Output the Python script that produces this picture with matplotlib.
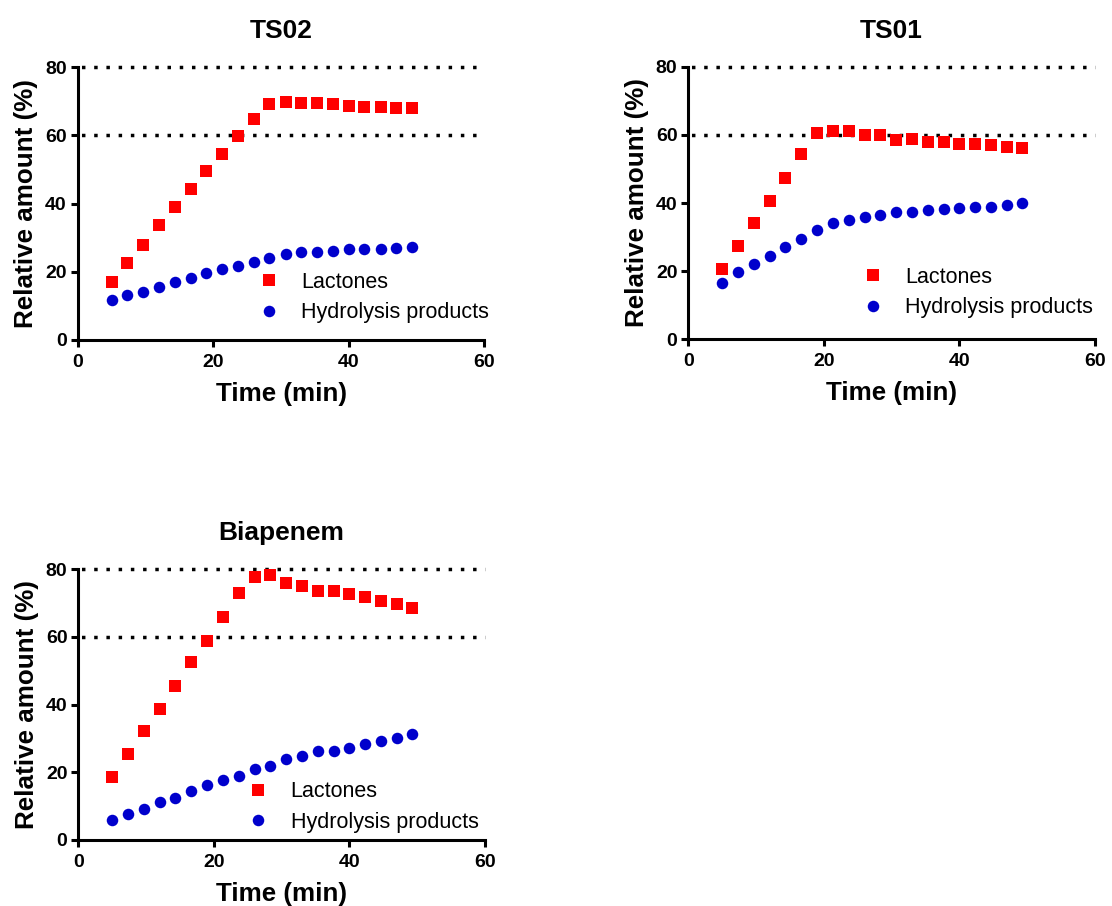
import matplotlib
matplotlib.use("Agg")
import matplotlib.pyplot as plt

plt.rcParams['font.family'] = ['Liberation Sans', 'DejaVu Sans']
plt.rcParams['lines.scale_dashes'] = False

# Sampling times (min), shared by all three compounds
time_min = [5.0, 7.3, 9.7, 12.0, 14.3, 16.7, 19.0, 21.3, 23.7, 26.0,
            28.3, 30.7, 33.0, 35.3, 37.7, 40.0, 42.3, 44.7, 47.0, 49.3]

# TS02
ts02_lactones = [17.1, 22.5, 27.9, 33.7, 38.9, 44.2, 49.6, 54.5, 59.8, 64.9,
                 69.1, 69.9, 69.6, 69.6, 69.2, 68.6, 68.4, 68.4, 68.1, 68.2]
ts02_hydrolysis = [11.7, 13.2, 14.2, 15.6, 16.9, 18.3, 19.7, 20.9, 21.8, 22.9,
                   24.2, 25.1, 25.7, 25.9, 26.1, 26.8, 26.8, 26.8, 27.0, 27.3]

# TS01
ts01_lactones = [20.5, 27.4, 34.0, 40.6, 47.4, 54.3, 60.4, 61.2, 61.0, 60.0,
                 60.0, 58.5, 58.8, 57.8, 57.8, 57.4, 57.2, 57.0, 56.3, 56.0]
ts01_hydrolysis = [16.6, 19.7, 22.0, 24.5, 27.0, 29.4, 32.1, 34.2, 35.0, 36.0,
                   36.4, 37.5, 37.5, 37.9, 38.1, 38.6, 38.9, 38.9, 39.3, 39.9]

# Biapenem
biap_lactones = [18.7, 25.4, 32.3, 38.7, 45.5, 52.4, 58.8, 65.9, 72.8, 77.5,
                 78.1, 76.0, 75.1, 73.6, 73.6, 72.6, 71.6, 70.6, 69.7, 68.4]
biap_hydrolysis = [5.9, 7.8, 9.2, 11.1, 12.5, 14.5, 16.2, 17.6, 18.9, 20.9,
                   21.7, 23.9, 24.7, 26.3, 26.3, 27.3, 28.2, 29.2, 30.2, 31.4]

titles = ["TS02", "TS01", "Biapenem"]
series_labels = ["Lactones", "Hydrolysis products"]
reference_levels = [60, 80]
x_ticks = [0, 20, 40, 60]
y_ticks = [0, 20, 40, 60, 80]

RED = "#FF0000"
BLUE = "#0000CC"

W, H = 1112, 906
fig = plt.figure(figsize=(W / 100, H / 100), dpi=100)


def px_axes(left, top, right, bottom):
    return fig.add_axes([left / W, 1 - bottom / H, (right - left) / W, (bottom - top) / H])


panels = [
    (px_axes(77.7, 67.3, 484.3, 340.0), titles[0], ts02_lactones, ts02_hydrolysis, (0.418, 0.156)),
    (px_axes(688.3, 66.7, 1095.0, 339.3), titles[1], ts01_lactones, ts01_hydrolysis, (0.401, 0.172)),
    (px_axes(78.3, 569.0, 485.0, 840.0), titles[2], biap_lactones, biap_hydrolysis, (0.390, 0.122)),
]

for ax, title, lac, hyd, leg_anchor in panels:
    # dotted guide lines: square dots about 3.5 px wide, 12 px apart
    for lvl in reference_levels:
        ax.axhline(lvl, color="black", lw=2.5, linestyle=(6.3, (2.5, 6.3)),
                   dash_capstyle="butt", zorder=1, clip_on=False)
    ax.plot(time_min, lac, linestyle="none", marker="s", markersize=8.0,
            color=RED, markeredgewidth=0, label=series_labels[0], clip_on=False, zorder=3)
    ax.plot(time_min, hyd, linestyle="none", marker="o", markersize=8.3,
            color=BLUE, markeredgewidth=0, label=series_labels[1], clip_on=False, zorder=3)

    ax.set_xlim(0, 60)
    ax.set_ylim(0, 80)
    ax.set_xticks(x_ticks)
    ax.set_yticks(y_ticks)
    for side in ("top", "right"):
        ax.spines[side].set_visible(False)
    for side in ("left", "bottom"):
        ax.spines[side].set_linewidth(2.2)
    ax.tick_params(direction="out", length=4.8, width=2.2, labelsize=14, pad=3)
    ax.tick_params(axis="x", pad=5)
    for lab in ax.get_xticklabels() + ax.get_yticklabels():
        lab.set_fontweight("bold")

    ax.set_xlabel("Time (min)", fontsize=18.7, fontweight="bold", labelpad=8)
    ax.set_ylabel("Relative amount (%)", fontsize=18.7, fontweight="bold", labelpad=5)
    ax.set_title(title, fontsize=19, fontweight="bold", pad=21)

    ax.legend(loc="center left", bbox_to_anchor=leg_anchor, frameon=False,
              fontsize=15.5, handlelength=2.0, handletextpad=0.5,
              labelspacing=0.45, borderpad=0, borderaxespad=0, markerscale=1.0)

fig.savefig("out.png", dpi=100)
